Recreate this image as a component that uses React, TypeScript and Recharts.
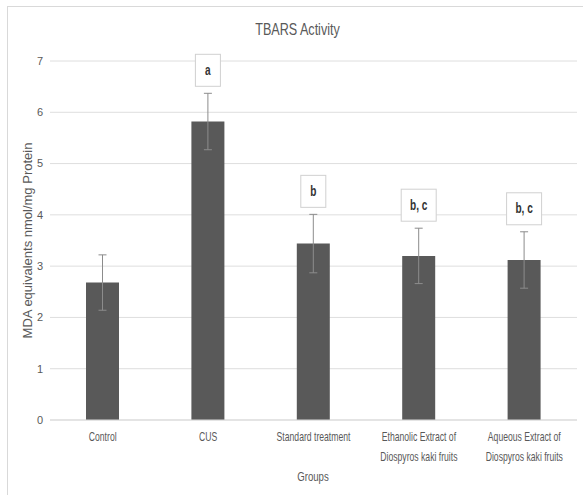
import { BarChart, Bar, XAxis, YAxis, CartesianGrid, ErrorBar, LabelList } from 'recharts';

const groups = [
  'Control',
  'CUS',
  'Standard treatment',
  'Ethanolic Extract of\nDiospyros kaki fruits',
  'Aqueous Extract of\nDiospyros kaki fruits',
];
const mda = [2.68, 5.82, 3.44, 3.2, 3.12];
const sem = [0.54, 0.55, 0.57, 0.54, 0.55];
const letters = ['', 'a', 'b', 'b, c', 'b, c'];
const yTicks = [0, 1, 2, 3, 4, 5, 6, 7];

const data = groups.map((group, i) => ({ group, mda: mda[i], sem: sem[i], letter: letters[i] }));

const FONT = '"Liberation Sans", Arial, sans-serif';
const GREY = '#595959';
// narrow-looking text: the installed sans squeezed horizontally
const NARROW = 0.72;

function GroupTick({ x, y, payload }: any) {
  const lines = String(payload.value).split('\n');
  return (
    <g transform={`translate(${x},${y}) scale(${NARROW},1)`}>
      <text x={0} y={0} textAnchor="middle" fill={GREY} fontFamily={FONT} fontSize={12}>
        {lines.map((line, i) => (
          <tspan key={i} x={0} dy={i === 0 ? 21.5 : 19.5}>
            {line}
          </tspan>
        ))}
      </text>
    </g>
  );
}

// significance letter in a small box, sitting just above the error bar cap
function LetterBox(props: any) {
  const { x, y, width, height, index, value } = props;
  if (!value) return null;
  const perUnit = height / mda[index];
  const capY = y - sem[index] * perUnit;
  const w = Math.max(25, String(value).length * 7 + 7);
  const h = 32;
  const cx = x + width / 2;
  const bottom = capY - 7;
  return (
    <g>
      <rect x={cx - w / 2} y={bottom - h} width={w} height={h} fill="#fff" stroke="#d0d0d0" />
      <g transform={`translate(${cx},${bottom - h / 2}) scale(${NARROW},1)`}>
        <text
          x={0}
          y={0}
          textAnchor="middle"
          dominantBaseline="central"
          fill="#333"
          fontFamily={FONT}
          fontWeight="bold"
          fontSize={14}
        >
          {value}
        </text>
      </g>
    </g>
  );
}

export default function App() {
  return (
    <div style={{ position: 'absolute', left: 0, top: 0, width: 583, height: 495, overflow: 'hidden', background: '#fff' }}>
      <div
        style={{
          position: 'absolute',
          left: 7,
          top: 6,
          width: 581,
          height: 500,
          border: '1px solid #d9d9d9',
          boxSizing: 'border-box',
        }}
      />
      <div
        style={{
          position: 'absolute',
          left: 7,
          top: 20,
          width: 581,
          textAlign: 'center',
          fontFamily: FONT,
          fontSize: 17,
          lineHeight: '20px',
          color: GREY,
          transform: 'scaleX(0.74)',
        }}
      >
        TBARS Activity
      </div>
      <div
        style={{
          position: 'absolute',
          left: 213,
          top: 469,
          width: 200,
          textAlign: 'center',
          fontFamily: FONT,
          fontSize: 13,
          lineHeight: '16px',
          color: GREY,
          transform: 'scaleX(0.74)',
        }}
      >
        Groups
      </div>
      <div style={{ position: 'absolute', left: 0, top: 0 }}>
        <BarChart width={583} height={495} data={data} margin={{ top: 61, right: 6, bottom: 0, left: 0 }}>
          <CartesianGrid vertical={false} stroke="#dedede" />
          <XAxis
            dataKey="group"
            height={75}
            axisLine={{ stroke: '#d9d9d9' }}
            tickLine={false}
            tickSize={0}
            tickMargin={0}
            interval={0}
            tick={<GroupTick />}
          />
          <YAxis
            width={50}
            domain={[0, 7]}
            ticks={yTicks}
            axisLine={false}
            tickLine={false}
            tickSize={0}
            tickMargin={7}
            tick={{ fill: GREY, fontFamily: FONT, fontSize: 11 }}
            label={{
              value: 'MDA equivalents nmol/mg Protein',
              angle: -90,
              position: 'center',
              dx: 2,
              fill: GREY,
              fontFamily: FONT,
              fontSize: 13,
            }}
          />
          <Bar dataKey="mda" fill={GREY} barSize={33} isAnimationActive={false}>
            <ErrorBar dataKey="sem" width={4} stroke="#8c8c8c" strokeWidth={1} isAnimationActive={false} />
            <LabelList dataKey="letter" content={<LetterBox />} />
          </Bar>
        </BarChart>
      </div>
    </div>
  );
}
